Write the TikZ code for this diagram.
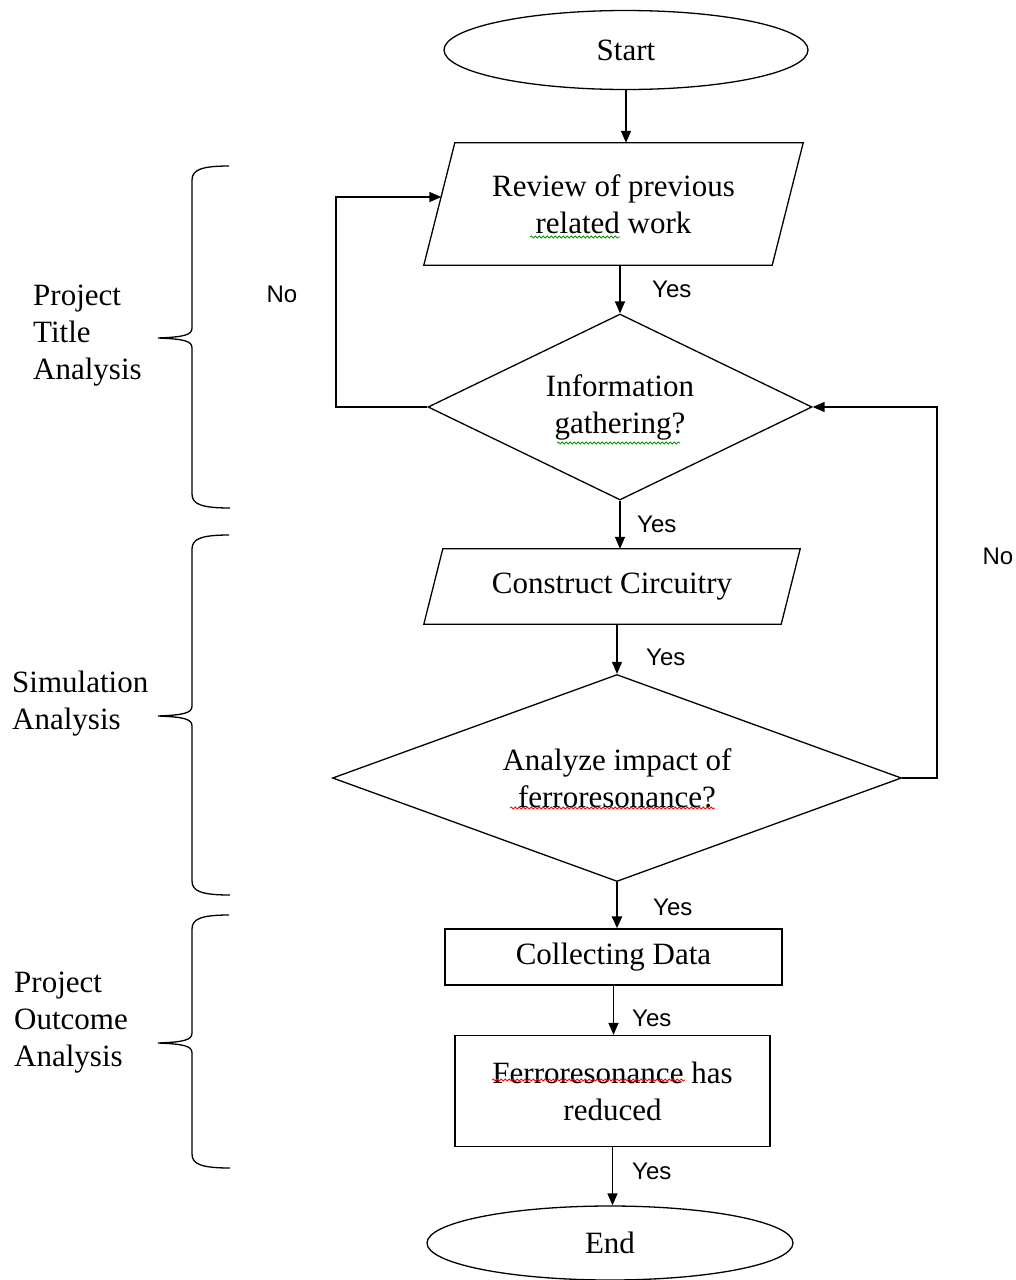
\documentclass[tikz,border=0pt]{standalone}
\usepackage{fontspec}
\setmainfont{Liberation Serif}
\newfontfamily\arialf{Liberation Sans}
\usetikzlibrary{shapes.geometric,arrows.meta,decorations.pathmorphing}
\newcommand\mybrace[3]{%
  \draw[bracestyle] (229,#1) .. controls (201,#1) and (192,{#1+4}) .. (192,{#1+14})
    -- (192,{#2-10}) .. controls (192,{#2-3}) and (184,{#2-1}) .. (158,#2)
    .. controls (184,{#2+1}) and (192,{#2+3}) .. (192,{#2+10})
    -- (192,{#3-14}) .. controls (192,{#3-4}) and (201,#3) .. (230,#3);}
\newcommand\mypara[2]{%
  \draw[line width=1.3pt] ([xshift=#2]#1.north west) -- ([xshift=#2]#1.north east)
    -- ([xshift=-#2]#1.south east) -- ([xshift=-#2]#1.south west) -- cycle;}
\begin{document}
\begin{tikzpicture}[x=1pt,y=-1pt,
  every node/.style={font=\fontsize{31}{37}\selectfont},
  box/.style={draw,line width=1.3pt,inner sep=0pt,align=center},
  term/.style={box,ellipse},
  para/.style={inner sep=0pt,align=center},
  dec/.style={box,diamond},
  arr/.style={line width=1.4pt,-{Triangle[length=12pt,width=10pt]}},
  yes/.style={font=\arialf\fontsize{24}{28}\selectfont,anchor=west,inner sep=0pt},
  lbl/.style={align=left,anchor=west,inner sep=0pt},
  bracestyle/.style={line width=1.3pt},
  squig/.style={line width=0.8pt,decorate,decoration={snake,amplitude=1pt,segment length=4pt}},
]
\useasboundingbox[fill=white] (0,0) rectangle (1015,1280);

% nodes
\node[term,minimum width=364,minimum height=79] (start) at (626,50) {Start};
\node[para,minimum width=348,minimum height=122] (rev) at (613.5,204) {Review of previous\\related work};
\mypara{rev}{15.5}
\node[dec,shape aspect=2.065,minimum width=384,minimum height=186] (d1) at (620,407) {Information\\gathering?};
\node[para,minimum width=357,minimum height=75] (cc) at (612,586.5) {Construct Circuitry};
\mypara{cc}{9.5}
\node[dec,shape aspect=2.75,minimum width=569,minimum height=207] (d2) at (617,778) {Analyze impact of\\ferroresonance?};
\node[box,minimum width=337,minimum height=56] (cd) at (613.5,957) {Collecting Data};
\node[box,minimum width=315,minimum height=111] (fr) at (612.5,1091) {Ferroresonance has\\reduced};
\node[term,minimum width=366,minimum height=74] (end) at (610,1243) {End};

% connectors
\draw[arr] (start.south) -- (start.south |- rev.north);
\draw[arr] (rev.south -| d1.north) -- (d1.north);
\draw[arr] (d1.south) -- (d1.south |- cc.north);
\draw[arr] (cc.south -| d2.north) -- (d2.north);
\draw[arr,line width=2.6pt] (d2.south) -- (d2.south |- cd.north);
\draw[arr] (cd.south) -- (cd.south |- fr.north);
\draw[arr] (fr.south) -- (fr.south |- end.north);

\coordinate (nl) at (336,197);
\draw[arr] (d1.west) -| (nl) -- ([xshift=2]rev.west |- nl);
\coordinate (nr) at (937,600);
\draw[arr] (d2.east) -| (nr) |- (d1.east);

% labels on connectors
\node[yes] (y1) at (652,289) {Yes};
\node[yes] (y2) at (637,524) {Yes};
\node[yes] (y3) at (646,657) {Yes};
\node[yes] (y4) at (653,907) {Yes};
\node[yes] (y5) at (632,1018) {Yes};
\node[yes] (y6) at (632,1171) {Yes};
\node[yes,anchor=center] (n1) at (282,294) {No};
\node[yes,anchor=center] (n2) at (998,556) {No};

% spell-check squiggles
\draw[squig,green!60!black] (530,237) -- (620,237);
\draw[squig,green!60!black] (557,443) -- (680,443);
\draw[squig,red] (510,808) -- (715,808);
\draw[squig,red] (492,1080) -- (685,1080);

% braces
\mybrace{166}{338}{508}
\mybrace{535}{716}{895}
\mybrace{915}{1043}{1168}

% side labels
\node[lbl] (l1) at (33,336) {Project\\Title\\Analysis};
\node[lbl] (l2) at (12,704) {Simulation\\Analysis};
\node[lbl] (l3) at (14,1023) {Project\\Outcome\\Analysis};
\end{tikzpicture}
\end{document}
